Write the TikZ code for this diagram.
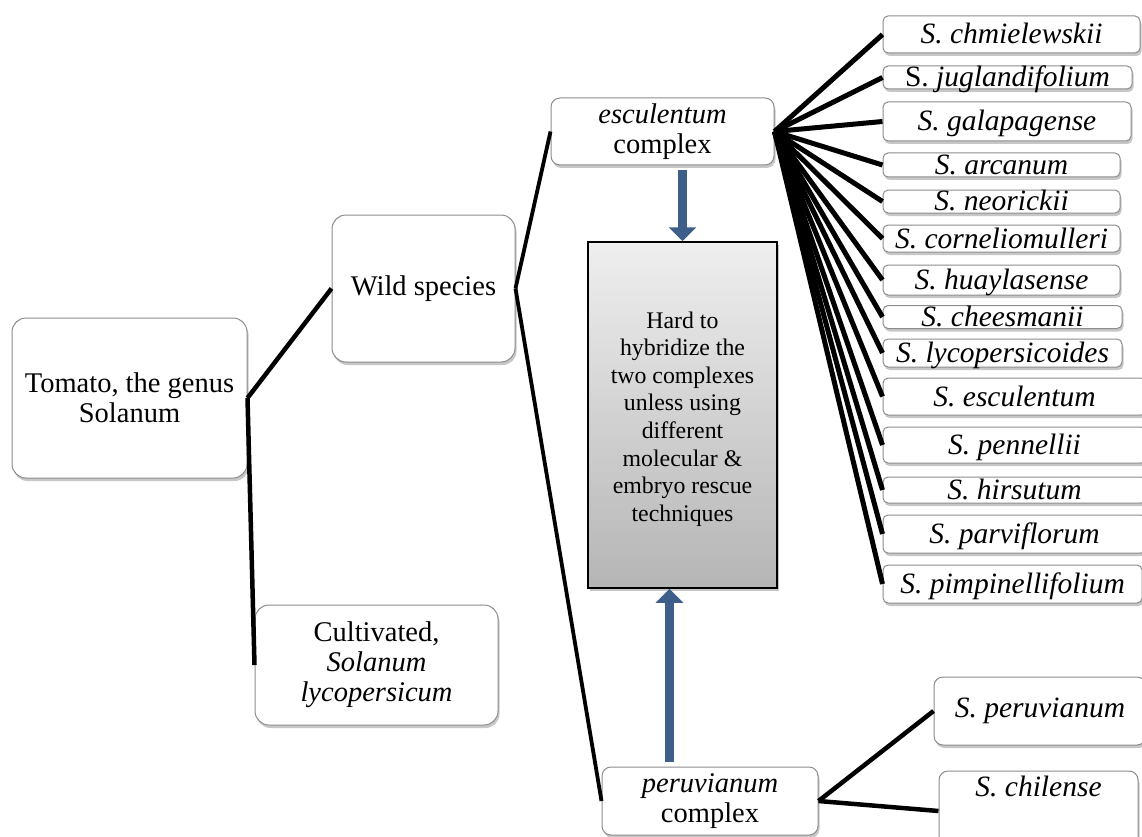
\documentclass[tikz,border=0pt]{standalone}
\usepackage{fontspec}
\setmainfont{Liberation Serif}
\usetikzlibrary{shadows,arrows.meta,calc}
\definecolor{bordergray}{HTML}{8C8C8C}
\definecolor{arrowblue}{HTML}{3E5F8A}
\definecolor{hardtop}{HTML}{EFEFEF}
\definecolor{hardbot}{HTML}{B5B5B5}
\tikzset{
  softshadow/.style={drop shadow={shadow xshift=1.5pt, shadow yshift=-3pt, opacity=0.22, fill=black}},
  bigbox/.style={draw=bordergray, line width=1pt, fill=white, rounded corners=14pt,
    inner sep=0pt, align=center, font=\fontsize{28.5}{30}\selectfont, softshadow},
  midbox/.style={bigbox, rounded corners=9pt},
  spbox/.style={draw=bordergray, line width=1pt, fill=white, rounded corners=5pt,
    inner sep=0pt, align=center, font=\fontsize{29.5}{30}\selectfont\itshape,
    text height=21pt, text depth=2pt, softshadow},
  hardbox/.style={draw=black, line width=1.5pt, top color=hardtop, bottom color=hardbot,
    inner sep=0pt, align=center, font=\fontsize{23.8}{27.6}\selectfont, softshadow},
  conn/.style={line width=4.5pt, black},
  fanline/.style={line width=5pt, black},
  bluearrow/.style={draw=arrowblue, line width=9pt, -{Triangle[width=27pt,length=14pt]}},
}
\begin{document}
\begin{tikzpicture}[x=1pt,y=-1pt]
\useasboundingbox (0,0) rectangle (1142,837);

% main boxes
\node[bigbox, minimum width=235pt, minimum height=160pt] (tom) at (129.5,398) {Tomato, the genus\\Solanum};
\node[bigbox, minimum width=183pt, minimum height=147pt] (wild) at (423.5,288.5) {Wild species};
\node[bigbox, minimum width=243pt, minimum height=120pt] (cult) at (376.5,665) {Cultivated,\\\textit{Solanum}\\\textit{lycopersicum}};
\node[midbox, minimum width=223pt, minimum height=67pt] (esc) at (662.5,131.5) {\textit{esculentum}\\complex};
\node[midbox, minimum width=216pt, minimum height=68pt] (pc) at (710,801) {\textit{peruvianum}\\complex};
\node[hardbox, minimum width=189pt, minimum height=346pt] (hard) at (682.5,415)
  {\mbox{}\\[-3pt]Hard to\\hybridize the\\two complexes\\unless using\\different\\molecular \&\\embryo rescue\\techniques};

% peruvianum complex species
\node[midbox, font=\fontsize{29.5}{30}\selectfont\itshape, minimum width=212pt, minimum height=68pt] (sper) at (1040,711) {S. peruvianum};
\node[midbox, minimum width=199pt, minimum height=80pt] (chil) at (1038.5,811) {};
\node[font=\fontsize{29.5}{30}\selectfont\itshape, inner sep=0pt] (chiltext) at (1038.5,786) {S. chilense};

% esculentum complex species
\node[spbox, minimum width=257pt, minimum height=37pt] (s1) at (1011.5,34.5) {S. chmielewskii};
\node[spbox, minimum width=249pt, minimum height=23pt] (s2) at (1007.5,77.5) {\upshape S. \itshape juglandifolium};
\node[spbox, minimum width=248pt, minimum height=39pt] (s3) at (1007,121.5) {S. galapagense};
\node[spbox, minimum width=237pt, minimum height=24pt] (s4) at (1001.5,165) {S. arcanum};
\node[spbox, minimum width=237pt, minimum height=23pt] (s5) at (1001.5,201.5) {S. neorickii};
\node[spbox, minimum width=237pt, minimum height=27pt] (s6) at (1001.5,238.5) {S. corneliomulleri};
\node[spbox, minimum width=237pt, minimum height=30pt] (s7) at (1001.5,280) {S. huaylasense};
\node[spbox, minimum width=239pt, minimum height=23pt] (s8) at (1002.5,317) {S. cheesmanii};
\node[spbox, minimum width=239pt, minimum height=28pt] (s9) at (1002.5,353) {S. lycopersicoides};
\node[spbox, minimum width=263pt, minimum height=37pt] (s10) at (1014.5,396.5) {S. esculentum};
\node[spbox, minimum width=263pt, minimum height=36pt] (s11) at (1014.5,445) {S. pennellii};
\node[spbox, minimum width=263pt, minimum height=26pt] (s12) at (1014.5,490) {S. hirsutum};
\node[spbox, minimum width=263pt, minimum height=38pt] (s13) at (1014.5,534) {S. parviflorum};
\node[spbox, minimum width=259pt, minimum height=38pt] (s14) at (1012.5,584) {S. pimpinellifolium};

% connectors
\draw[conn] (tom.east) -- (wild.west);
\draw[conn] (tom.east) -- (cult.west);
\draw[conn, line width=3.8pt] (wild.east) -- (esc.west);
\draw[conn, line width=3.8pt] (wild.east) -- (pc.west);
\draw[conn] (pc.east) -- (sper.west);
\draw[conn] (pc.east) -- (chil.west);
\foreach \n in {s1,s2,s3,s4,s5,s6,s7,s8,s9,s10,s11,s12,s13,s14}
  \draw[fanline] (esc.east) -- (\n.west);

% blue arrows
\draw[bluearrow] ($(hard.north |- esc.south)+(0,5)$) -- (hard.north);
\draw[bluearrow] ($(hard.south |- pc.north)+(-13,-5)$) -- ($(hard.south)+(-13,0)$);
\end{tikzpicture}
\end{document}
